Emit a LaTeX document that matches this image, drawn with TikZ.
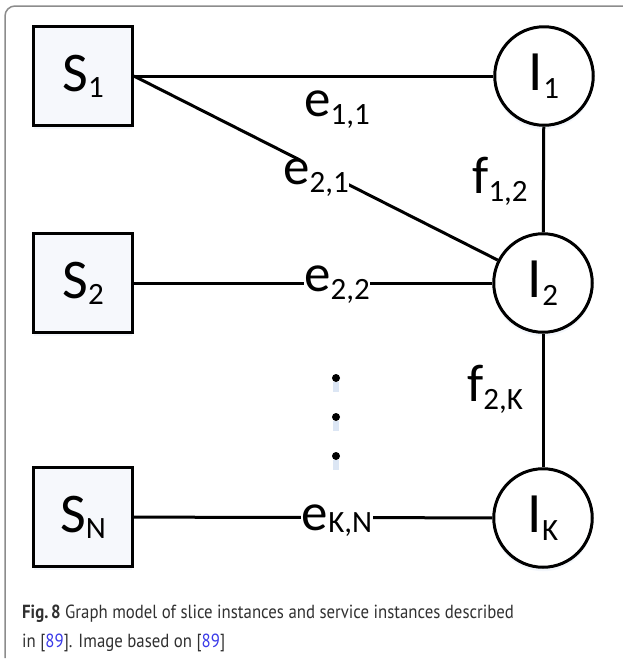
\documentclass[tikz,border=0pt]{standalone}
\usepackage{fontspec}
\setmainfont{Carlito}
\newfontfamily\capfont{PT Sans}
\usetikzlibrary{shadows}
\definecolor{framegrey}{HTML}{8C8C8C}
\definecolor{boxfill}{HTML}{F6F8FC}
\definecolor{linkblue}{HTML}{3A3AE8}
\definecolor{captext}{HTML}{303030}
\definecolor{glow}{HTML}{DCE6F4}

% main letter followed by a lowered, smaller index
\newcommand{\idx}[3][8pt]{#2\raisebox{-#1}{\fontsize{31}{31}\selectfont #3}}
% caption lines are set slightly taller than the font's own proportions
\newcommand{\capline}[1]{\scalebox{1}[1.13]{#1}}

\tikzset{
  sbox/.style={draw, line width=3.2pt, fill=boxfill, minimum size=98.5pt, inner sep=0pt,
               font=\fontsize{56}{56}\selectfont,
               drop shadow={shadow xshift=0pt, shadow yshift=-4pt, opacity=0.35, fill=glow}},
  inode/.style={draw, circle, line width=3pt, fill=white, minimum size=98.5pt, inner sep=0pt,
               font=\fontsize{57}{57}\selectfont,
               drop shadow={shadow xshift=0pt, shadow yshift=-4pt, opacity=0.35, fill=glow}},
  edge/.style={line width=3pt},
  elabel/.style={inner sep=0.5pt, font=\fontsize{53}{53}\selectfont},
  gaplabel/.style={elabel, fill=white},
  vdot/.style={circle, fill=black, inner sep=0pt, minimum size=8pt},
  captxt/.style={anchor=base west, inner sep=0pt, text=captext,
                 font=\capfont\fontsize{16.8}{30}\selectfont},
}

\begin{document}
\begin{tikzpicture}[x=1pt, y=-1pt]
\useasboundingbox (0,0) rectangle (623,662);

% outer frame, open to the right and at the bottom
\draw[framegrey, line width=1.5pt, rounded corners=10pt] (5,658) -- (5,6) -- (623,6);

% slice instances
\node[sbox] (s1) at (83,76)  {\idx[6pt]{S}{1}};
\node[sbox] (s2) at (83,283) {\idx[6pt]{S}{2}};
\node[sbox] (sn) at (83,517) {\idx[6pt]{S}{N}};

% service instances
\node[inode] (i1) at (544,76)  {\idx{I}{1}};
\node[inode] (i2) at (543,283) {\idx{I}{2}};
\node[inode] (ik) at (543,518) {\idx{I}{K}};

% connectors
\draw[edge] (s1) -- (i1);
\draw[edge] (s1.east) -- (i2);
\draw[edge] (s2) -- (i2);
\draw[edge] (sn) -- (ik);
\draw[edge] (i1) -- (i2);
\draw[edge] (i2) -- (ik);

% edge weights
\node[elabel]   (l11) at (337,110) {\idx{e}{1,1}};
\node[gaplabel] (l21) at (316,178) {\idx{e}{2,1}};
\node[gaplabel] (l22) at (337,285) {\idx{e}{2,2}};
\node[gaplabel] (lkn) at (337,521) {\idx[2pt]{e}{K,N}};
\node[elabel]   (f12) at (500,181) {\idx{f}{1,2}};
\node[elabel]   (f2k) at (495,389) {\idx{f}{2,K}};

% vertical ellipsis
\foreach \y [count=\i] in {378,417,456} {
  \fill[glow] (333,\y+4) rectangle (339,\y+14);
  \node[vdot] (dot\i) at (336,\y) {};
}

% caption
\node[captxt] (cap1) at (22,618.5) {\capline{\textbf{Fig.\,8} Graph model of slice instances and service instances described}};
\node[captxt] (cap2) at (22,647) {\capline{in [\textcolor{linkblue}{89}]. Image based on [\textcolor{linkblue}{89}]}};
\end{tikzpicture}
\end{document}
